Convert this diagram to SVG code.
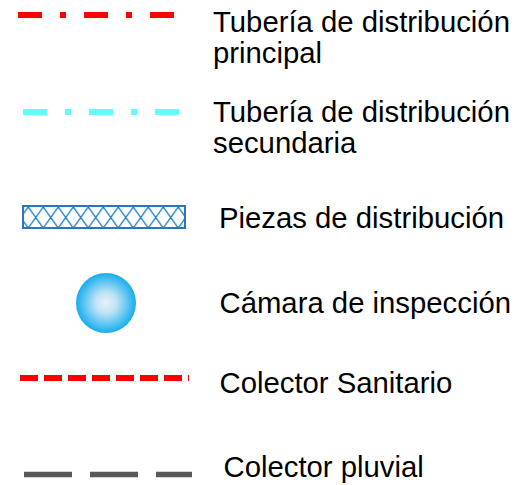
<svg xmlns="http://www.w3.org/2000/svg" width="530" height="485" viewBox="0 0 530 485">
<style>
  .lbl { font-family: "Liberation Sans", Arial, sans-serif; font-size: 29.3px; fill: #000; }
  .dash-main { fill: none; stroke: #ff0000; stroke-width: 6; stroke-dasharray: 24 18 6 18; }
  .dash-sec { fill: none; stroke: #5ffdff; stroke-width: 6; stroke-dasharray: 24 18 6 18; }
  .dash-san { fill: none; stroke: #ff0000; stroke-width: 6; stroke-dasharray: 18 6; }
  .dash-plu { fill: none; stroke: #595959; stroke-width: 5.5; stroke-dasharray: 48 18; }
</style>
<defs>
  <pattern id="hatch" patternUnits="userSpaceOnUse" x="13.3" y="207" width="15" height="21">
    <path d="M0,0 L15,21 M15,0 L0,21" stroke="#0070c0" stroke-width="1.2" fill="none"/>
  </pattern>
  <radialGradient id="ball" cx="50%" cy="50%" r="50%">
    <stop offset="0" stop-color="#eaeff8"/>
    <stop offset="0.35" stop-color="#bfe3f6"/>
    <stop offset="1" stop-color="#15aeee"/>
  </radialGradient>
</defs>
<g id="legend-principal">
  <line class="dash-main" x1="18" y1="15" x2="174" y2="15"/>
  <text class="lbl" x="213" y="32">Tubería de distribución</text>
  <text class="lbl" x="213" y="63">principal</text>
</g>
<g id="legend-secundaria">
  <line class="dash-sec" x1="23" y1="112" x2="179" y2="112"/>
  <text class="lbl" x="213" y="122">Tubería de distribución</text>
  <text class="lbl" x="213" y="153">secundaria</text>
</g>
<g id="legend-piezas">
  <rect x="23" y="206" width="162" height="22" fill="url(#hatch)" stroke="#2e75b6" stroke-width="2"/>
  <text class="lbl" x="219" y="228">Piezas de distribución</text>
</g>
<g id="legend-camara">
  <circle cx="106" cy="303" r="30" fill="url(#ball)"/>
  <text class="lbl" x="219.5" y="313">Cámara de inspección</text>
</g>
<g id="legend-sanitario">
  <line class="dash-san" x1="20" y1="378" x2="189" y2="378"/>
  <text class="lbl" x="219.5" y="393">Colector Sanitario</text>
</g>
<g id="legend-pluvial">
  <line class="dash-plu" x1="24" y1="474.5" x2="192" y2="474.5"/>
  <text class="lbl" x="223.5" y="477">Colector pluvial</text>
</g>
</svg>
